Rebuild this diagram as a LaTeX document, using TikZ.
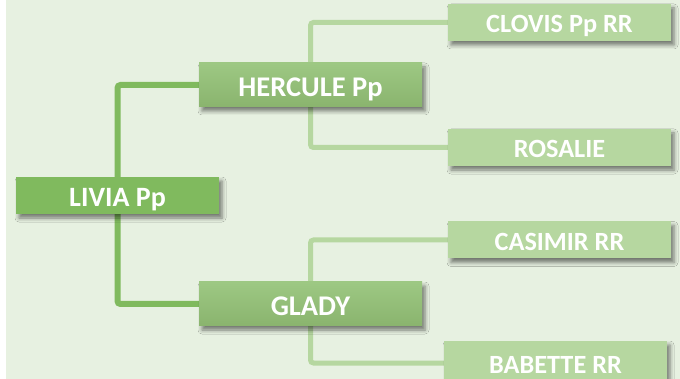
\documentclass[tikz,border=0pt]{standalone}
\usepackage{fontspec}
\setmainfont{Carlito}
\usetikzlibrary{backgrounds,shadows.blur}
\definecolor{paleback}{HTML}{E7F1E1}
\definecolor{rootgreen}{HTML}{80BA5E}
\definecolor{midtop}{HTML}{9DC883}
\definecolor{midbot}{HTML}{8AB46E}
\definecolor{leafgreen}{HTML}{B6D7A0}
\begin{document}
\begin{tikzpicture}[x=1pt, y=-1pt,
    box/.style={minimum width=223pt, minimum height=37pt, inner sep=0pt,
        text=white, text depth=0pt,
        blur shadow={shadow xshift=3pt, shadow yshift=-4pt,
        shadow blur radius=4pt, shadow opacity=50}},
    rootbox/.style={box, fill=rootgreen, minimum width=203pt, text height=22pt,
        font=\bfseries\fontsize{28}{28}\selectfont},
    midbox/.style={box, top color=midtop, bottom color=midbot,
        minimum height=44pt, text height=22.4pt,
        font=\bfseries\fontsize{28.5}{28.5}\selectfont},
    leafbox/.style={box, fill=leafgreen, text height=21pt,
        font=\bfseries\fontsize{26.3}{26.3}\selectfont},
    rootline/.style={draw=rootgreen, line width=6pt, rounded corners=3pt},
    leafline/.style={draw=leafgreen, line width=5pt, rounded corners=3pt}]
    \useasboundingbox (0,0) rectangle (680,379);
    % family boxes
    \node[rootbox] (livia) at (117.5,195.5) {LIVIA Pp};
    \node[midbox] (hercule) at (310.5,85) {HERCULE Pp};
    \node[midbox] (glady) at (310.5,304) {GLADY};
    \node[leafbox] (clovis) at (559.5,22.5) {CLOVIS Pp RR};
    \node[leafbox] (rosalie) at (559.5,147.5) {ROSALIE};
    \node[leafbox] (casimir) at (559.5,240) {CASIMIR RR};
    \node[leafbox, minimum height=44pt] (babette) at (555.5,363) {BABETTE RR};
    % links behind the boxes
    \begin{scope}[on background layer]
        \fill[paleback] (6,0) rectangle (680,379);
        \draw[rootline] (livia.center) |- (hercule.west);
        \draw[rootline] (livia.center) |- (glady.west);
        \draw[leafline] (hercule.center) |- (clovis.west);
        \draw[leafline] (hercule.center) |- (rosalie.west);
        \draw[leafline] (glady.center) |- (casimir.west);
        \draw[leafline] (glady.center) |- (babette.west);
    \end{scope}
\end{tikzpicture}
\end{document}
